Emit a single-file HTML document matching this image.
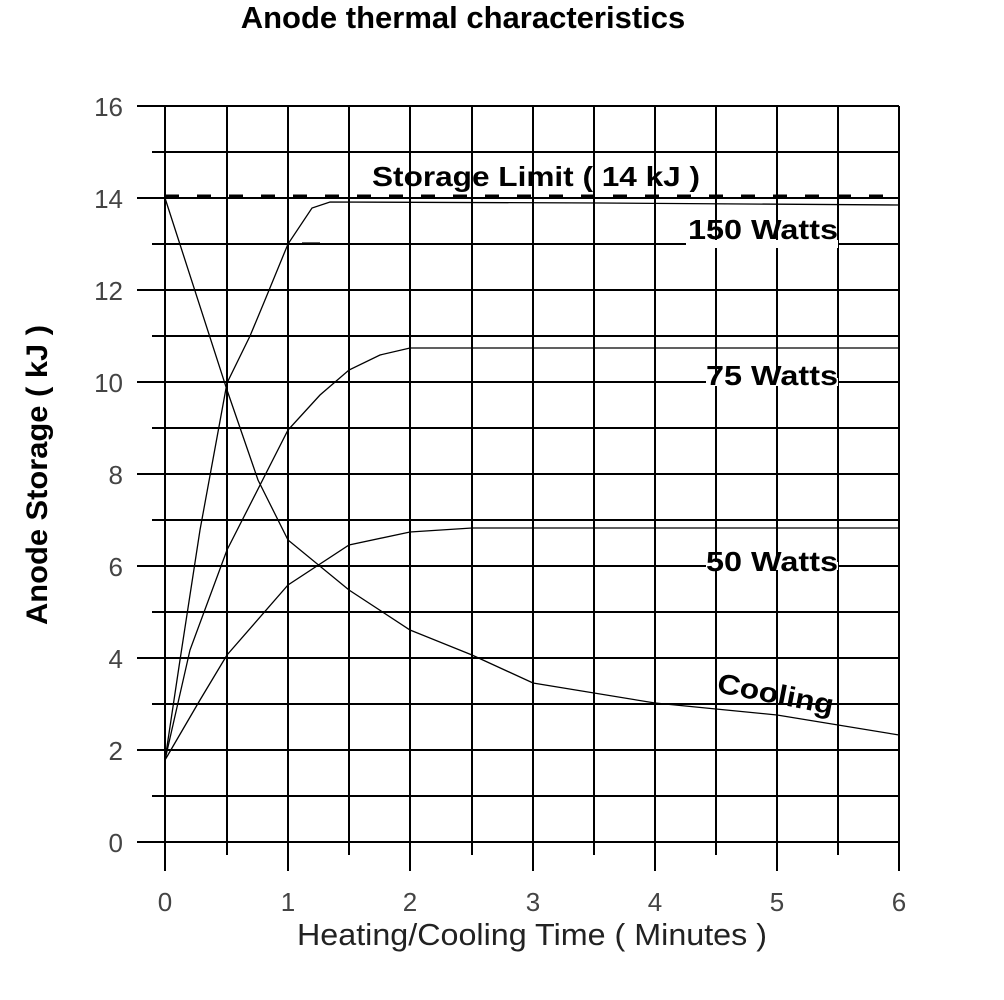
<!DOCTYPE html>
<html><head><meta charset="utf-8"><style>body{margin:0;background:#fff}svg{display:block}</style></head><body>
<svg width="1004" height="1000" xmlns="http://www.w3.org/2000/svg" font-family="Liberation Sans, Arial, sans-serif">
<rect width="1004" height="1000" fill="#fff"/>
<text x="463" y="28" font-size="31px" font-weight="bold" text-anchor="middle">Anode thermal characteristics</text>
<g stroke="#000" stroke-width="2">
<line x1="137" y1="106" x2="899" y2="106"/>
<line x1="152" y1="152" x2="899" y2="152"/>
<line x1="137" y1="198" x2="899" y2="198"/>
<line x1="152" y1="244" x2="899" y2="244"/>
<line x1="137" y1="290" x2="899" y2="290"/>
<line x1="152" y1="336" x2="899" y2="336"/>
<line x1="137" y1="382" x2="899" y2="382"/>
<line x1="152" y1="428" x2="899" y2="428"/>
<line x1="137" y1="474" x2="899" y2="474"/>
<line x1="152" y1="520" x2="899" y2="520"/>
<line x1="137" y1="566" x2="899" y2="566"/>
<line x1="152" y1="612" x2="899" y2="612"/>
<line x1="137" y1="658" x2="899" y2="658"/>
<line x1="152" y1="704" x2="899" y2="704"/>
<line x1="137" y1="750" x2="899" y2="750"/>
<line x1="152" y1="796" x2="899" y2="796"/>
<line x1="137" y1="842" x2="899" y2="842"/>
<line x1="165" y1="106" x2="165" y2="871"/>
<line x1="227" y1="106" x2="227" y2="855"/>
<line x1="288" y1="106" x2="288" y2="871"/>
<line x1="349" y1="106" x2="349" y2="855"/>
<line x1="410" y1="106" x2="410" y2="871"/>
<line x1="472" y1="106" x2="472" y2="855"/>
<line x1="533" y1="106" x2="533" y2="871"/>
<line x1="594" y1="106" x2="594" y2="855"/>
<line x1="655" y1="106" x2="655" y2="871"/>
<line x1="716" y1="106" x2="716" y2="855"/>
<line x1="777" y1="106" x2="777" y2="871"/>
<line x1="838" y1="106" x2="838" y2="855"/>
<line x1="899" y1="106" x2="899" y2="871"/>
</g>
<rect x="686" y="240" width="152" height="8" fill="#fff"/>
<rect x="706" y="378" width="132" height="8" fill="#fff"/>
<rect x="706" y="562" width="132" height="8" fill="#fff"/>
<line x1="165" y1="196" x2="899" y2="196" stroke="#000" stroke-width="3" stroke-dasharray="14,18"/>
<g fill="none" stroke="#000" stroke-width="1.3">
<polyline points="165,760 180,660 200,530 227,383 250,336 265,300 288,244 312,208 330,202 600,203 899,205"/>
<polyline points="165,760 190,650 227,550 288,430 320,395 349,370 380,355 410,348 899,348"/>
<polyline points="165,760 200,700 227,655 288,585 349,545 410,532 472,528 899,528"/>
<polyline points="165,198 227,390 258,480 288,540 349,590 410,630 472,655 533,683 655,703 777,715 899,735"/>
<line x1="302" y1="243" x2="320" y2="243"/>
<line x1="288" y1="275" x2="288" y2="310"/>
<line x1="265" y1="336" x2="288" y2="336"/>
</g>
<g font-weight="bold" font-size="28px">
<text x="372" y="186" textLength="328" lengthAdjust="spacingAndGlyphs">Storage Limit ( 14 kJ )</text>
<text x="688" y="239" textLength="150" lengthAdjust="spacingAndGlyphs">150 Watts</text>
<text x="706" y="385" textLength="132" lengthAdjust="spacingAndGlyphs">75 Watts</text>
<text x="706" y="571" textLength="132" lengthAdjust="spacingAndGlyphs">50 Watts</text>
<text x="716" y="692" transform="rotate(11 716 692)" textLength="118" lengthAdjust="spacingAndGlyphs">Cooling</text>
</g>
<g font-size="26px" fill="#444" text-anchor="end">
<text x="123" y="116">16</text><text x="123" y="208">14</text><text x="123" y="300">12</text>
<text x="123" y="392">10</text><text x="123" y="484">8</text><text x="123" y="576">6</text>
<text x="123" y="668">4</text><text x="123" y="760">2</text><text x="123" y="852">0</text>
</g>
<g font-size="26px" fill="#444" text-anchor="middle">
<text x="165" y="911">0</text><text x="288" y="911">1</text><text x="410" y="911">2</text>
<text x="533" y="911">3</text><text x="655" y="911">4</text><text x="777" y="911">5</text><text x="899" y="911">6</text>
</g>
<text x="532" y="945" font-size="31px" text-anchor="middle" fill="#222" textLength="470" lengthAdjust="spacingAndGlyphs">Heating/Cooling Time ( Minutes )</text>
<text x="0" y="0" font-size="30px" font-weight="bold" text-anchor="middle" transform="translate(47 475) rotate(-90)" textLength="300" lengthAdjust="spacingAndGlyphs">Anode Storage ( kJ )</text>
</svg>
</body></html>
